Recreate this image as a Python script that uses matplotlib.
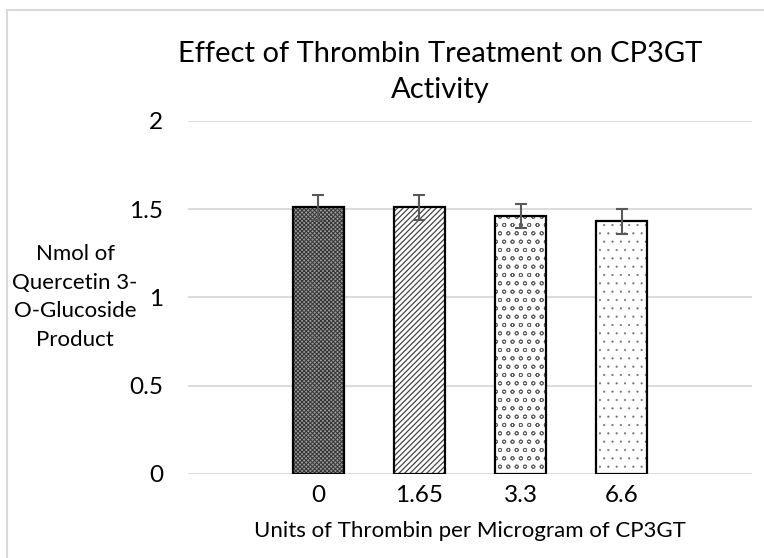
import matplotlib
matplotlib.use("Agg")
import matplotlib.pyplot as plt
from matplotlib.patches import Rectangle

categories = ["0", "1.65", "3.3", "6.6"]
values = [1.51, 1.51, 1.46, 1.43]
errors = [0.07, 0.07, 0.07, 0.07]
yticks = [0, 0.5, 1, 1.5, 2]
ytick_labels = ["0", "0.5", "1", "1.5", "2"]

title = "Effect of Thrombin Treatment on CP3GT\nActivity"
xlabel = "Units of Thrombin per Microgram of CP3GT"
ylabel = "Nmol of\nQuercetin 3-\nO-Glucoside\nProduct"

plt.rcParams['font.family'] = ['Lato', 'DejaVu Sans']

W, H = 764, 558
fig = plt.figure(figsize=(W / 100, H / 100), dpi=100)
fig.patch.set_facecolor("white")

# chart border
fig.patches.append(Rectangle((7 / W, -0.1), 1.2, 1 - 10 / H + 0.1, transform=fig.transFigure,
                             fill=False, edgecolor="#d9d9d9", linewidth=1.5))

ax = fig.add_axes([188 / W, 1 - 474 / H, (752 - 188) / W, (474 - 120.7) / H])
x = list(range(len(categories)))
styles = [
    dict(hatch="xxxxxxxx", face="#9a9a9a", hc="#333333", lw=0.7),
    dict(hatch="//////", face="white", hc="#444444", lw=0.9),
    dict(hatch="oo", face="white", hc="#606060", lw=0.6),
    dict(hatch="..", face="white", hc="#707070", lw=0.3),
]
for xi, v, st in zip(x, values, styles):
    with plt.rc_context({"hatch.linewidth": st["lw"], "hatch.color": st["hc"]}):
        ax.bar([xi], [v], width=0.505, color=st["face"], edgecolor=st["hc"],
               linewidth=0, hatch=st["hatch"], zorder=3)
# bar outlines
ax.bar(x, values, width=0.505, fill=False, edgecolor="black", linewidth=1.6, zorder=4)
ax.errorbar(x, values, yerr=errors, fmt="none", ecolor="#595959", elinewidth=1.5,
            capsize=4.3, capthick=1.5, zorder=5)

ax.set_xlim(1.5 - 2.792, 1.5 + 2.792)
ax.set_ylim(0, 2)
ax.set_yticks(yticks)
ax.set_yticklabels(ytick_labels, fontsize=17.5)
ax.set_xticks(x)
ax.set_xticklabels(categories, fontsize=17.5)
ax.tick_params(axis="both", length=0)
ax.tick_params(axis="y", pad=18)
ax.tick_params(axis="x", pad=8)
ax.grid(axis="y", color="#d9d9d9", linewidth=1.3, zorder=0)
for s in ax.spines.values():
    s.set_visible(False)

fig.text(440 / W, 1 - 72 / H, title, ha="center", va="center", fontsize=21,
         linespacing=1.5)
fig.text(470 / W, 1 - 531 / H, xlabel, ha="center", va="center", fontsize=16)
fig.text(75 / W, 1 - 297 / H, ylabel, ha="center", va="center", fontsize=16,
         linespacing=1.55)

fig.savefig("out.png", dpi=100, facecolor="white")
